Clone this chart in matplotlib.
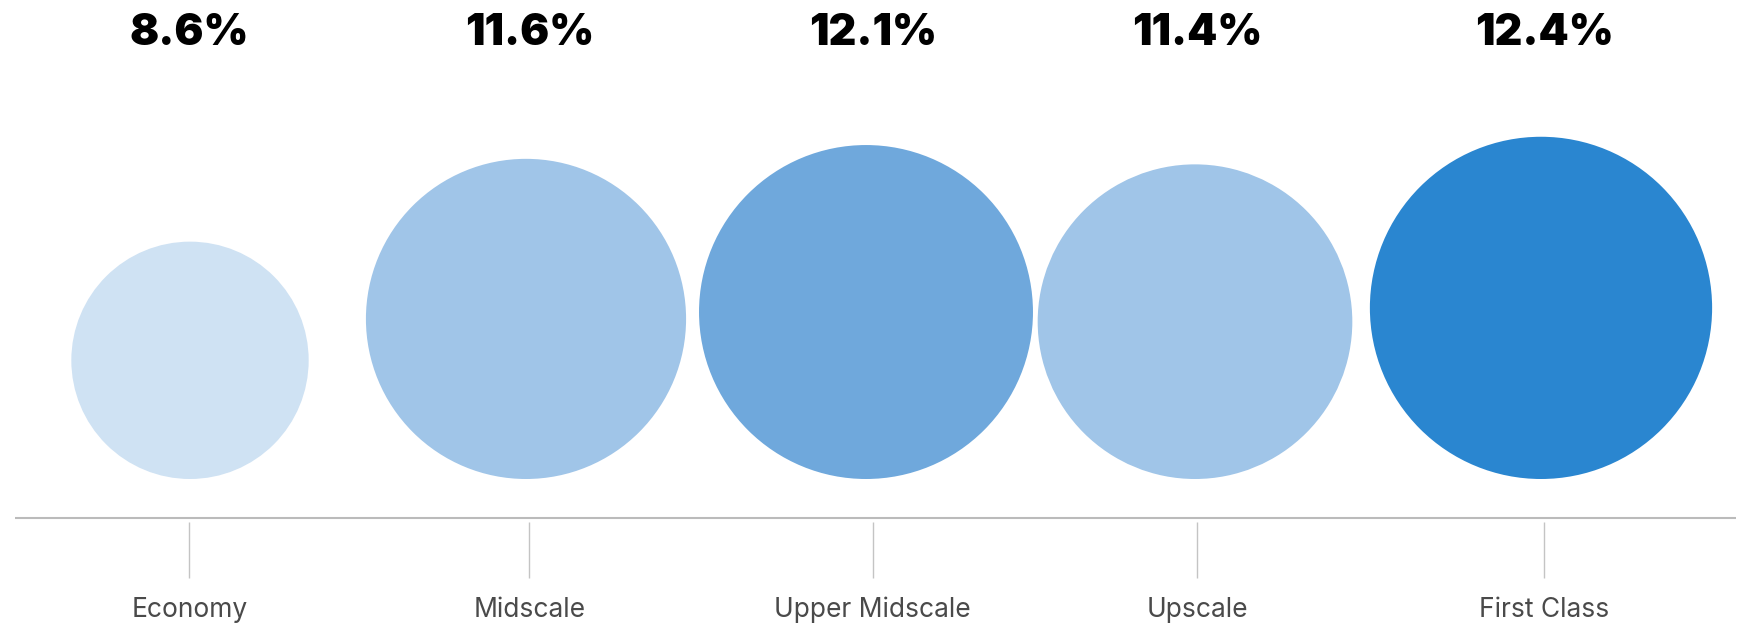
import matplotlib
matplotlib.use("Agg")
import matplotlib.pyplot as plt
from matplotlib.patches import Circle

# ---- data ----
categories = ["Economy", "Midscale", "Upper Midscale", "Upscale", "First Class"]
values = [8.6, 11.6, 12.1, 11.4, 12.4]
value_labels = ["8.6%", "11.6%", "12.1%", "11.4%", "12.4%"]

# ---- layout / style ----
W, H = 1747, 623
x_centers = [190, 526, 866, 1195, 1541]     # circle centres (pixel units)
tick_x = [189.5, 529.3, 872.7, 1197, 1544.3]
colors = ["#cfe2f3", "#a0c5e8", "#6fa8dc", "#a0c5e8", "#2a86d0"]
px_per_unit = 13.8
baseline = 479

fig = plt.figure(figsize=(W / 100, H / 100), dpi=100)
ax = fig.add_axes([0, 0, 1, 1])
ax.set_xlim(0, W)
ax.set_ylim(H, 0)
ax.axis("off")

for xc, v, c in zip(x_centers, values, colors):
    r = v * px_per_unit
    ax.add_patch(Circle((xc, baseline - r), r, facecolor=c, edgecolor="none"))

# axis line
ax.plot([15, 1736], [518.3, 518.3], color="#bbbbbb", lw=1.5, solid_capstyle="butt")

for tx, cat, lab in zip(tick_x, categories, value_labels):
    ax.plot([tx, tx], [521.7, 578], color="#c4c4c4", lw=1.0, solid_capstyle="butt")
    ax.text(tx, 617.3, cat, ha="center", va="baseline", fontsize=19,
            family=["Inter", "DejaVu Sans"], color="#4a4a4a")
    ax.text(tx, 45, lab, ha="center", va="baseline", fontsize=31,
            family=["Inter", "DejaVu Sans"], fontweight="black", color="#000000")

fig.savefig("out.png", dpi=100, facecolor="white")
